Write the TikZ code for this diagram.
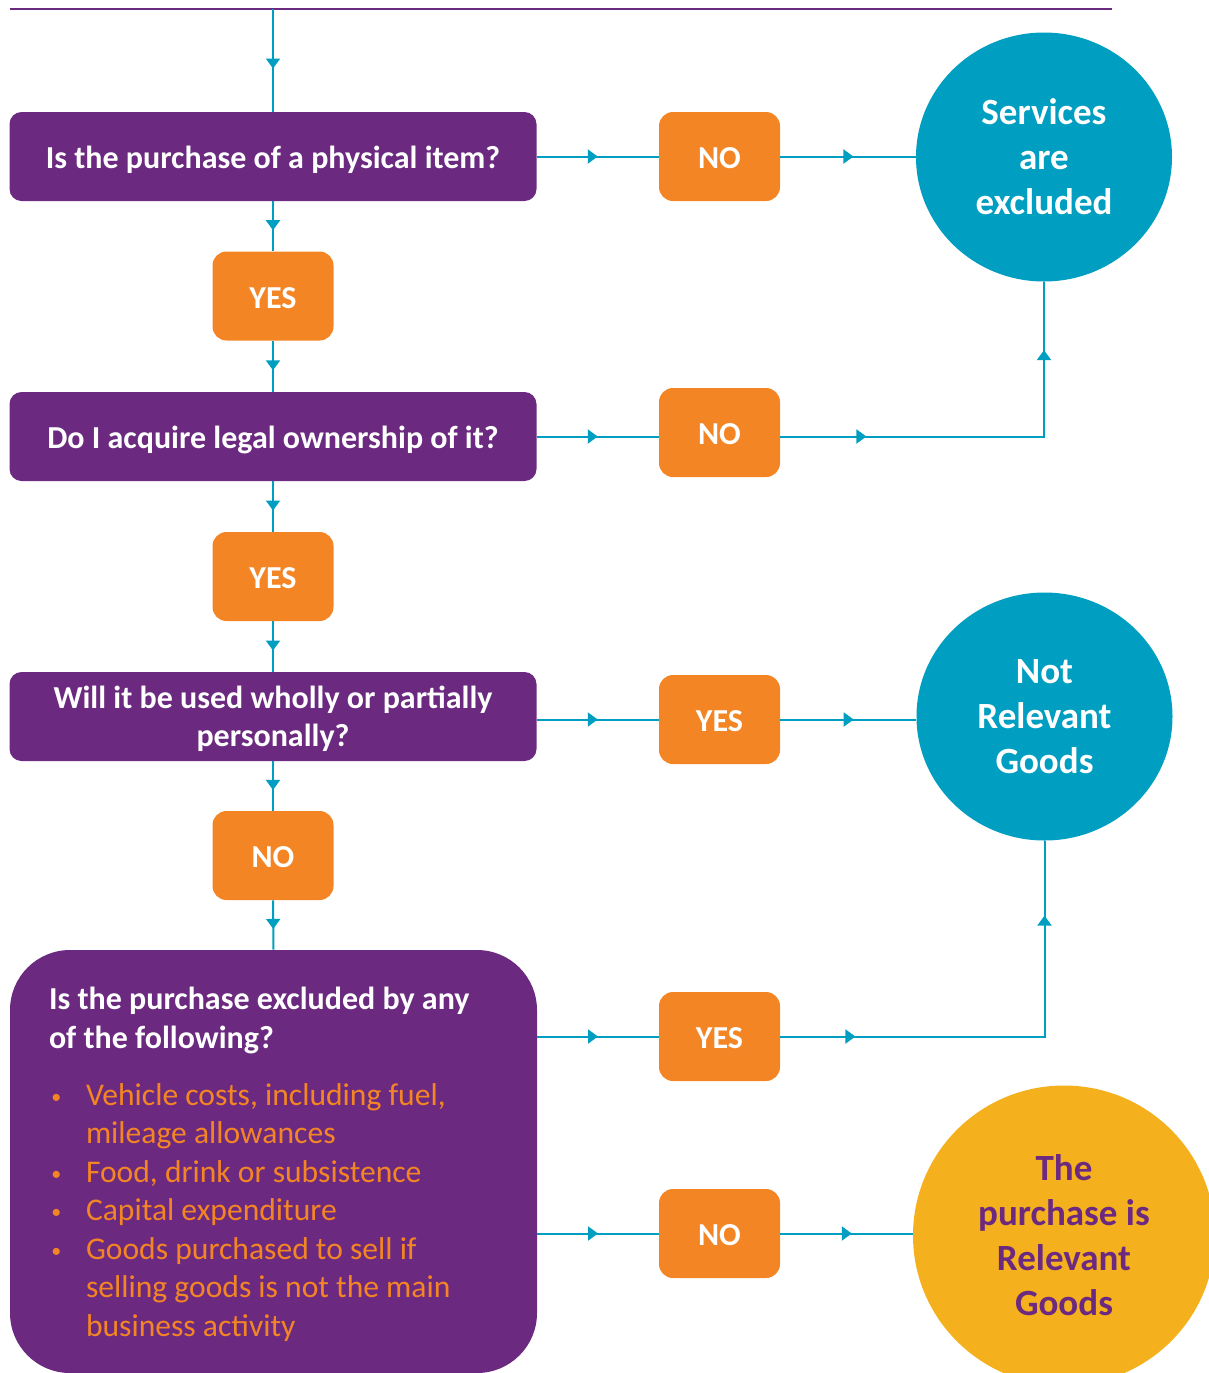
\documentclass[tikz,border=0pt]{standalone}
\usepackage{fontspec}
\setmainfont{Carlito}
\usetikzlibrary{arrows.meta,decorations.markings,shapes.geometric}
\definecolor{qpurple}{HTML}{6B2A80}
\definecolor{qorange}{HTML}{F48524}
\definecolor{qcyan}{HTML}{009EC0}
\definecolor{qyellow}{HTML}{F5B01E}
\newcommand\qbul{\makebox[18.5pt][l]{\hspace*{1.2pt}\raisebox{0.9pt}{\fontsize{10}{10}\selectfont•}}}
\newcommand\qind{\hspace*{18.5pt}}
\begin{document}
\begin{tikzpicture}[x=0.5pt,y=-0.5pt,
 qbox/.style={fill=qpurple, text=white, rounded corners=6pt, minimum width=263.5pt, minimum height=44.5pt, inner sep=0pt, align=center, font=\fontsize{16}{19}\selectfont\bfseries},
 ansbox/.style={fill=qorange, text=white, rounded corners=7pt, minimum width=60.5pt, minimum height=44.5pt, inner sep=0pt, text height=12.3pt, text depth=0pt, font=\fontsize{16}{19}\selectfont\bfseries},
 endc/.style={ellipse, fill=qcyan, text=white, inner sep=0pt, align=center, font=\fontsize{18.5}{22.5}\selectfont\bfseries},
 qtri/.tip={Triangle[length=5pt,width=7pt]},
 flowline/.style={draw=qcyan, line width=1pt, postaction={decorate}, decoration={markings, mark=at position #1 with {\arrow{qtri}}}},
 flowline/.default=0.55,
 flowtwo/.style 2 args={draw=qcyan, line width=1pt, postaction={decorate}, decoration={markings, mark=at position #1 with {\arrow{qtri}}, mark=at position #2 with {\arrow{qtri}}}}]
\useasboundingbox (0,0) rectangle (1209,1373);
\clip (0,0) rectangle (1209,1373);

\draw[qpurple, line width=0.75pt] (10,9) -- (1112,9);
\coordinate (top) at (273,9);

% left column
\node[qbox, text height=15.5pt, text depth=4pt] (q1) at (273,156.5) {Is the purchase of a physical item?};
\node[ansbox] (y1) at (273,296) {YES};
\node[qbox, text height=15.5pt, text depth=4pt] (q2) at (273,436.5) {Do I acquire legal ownership of it?};
\node[ansbox] (y2) at (273,576.5) {YES};
\node[qbox] (q3) at (273,716.5) {\rule{0pt}{14pt}Will it be used wholly or partially\\personally?};
\node[ansbox] (n3) at (273,855.5) {NO};
\node[fill=qpurple, rounded corners=30pt, minimum width=263.5pt, minimum height=211.5pt, inner sep=0pt, text width=224.5pt, align=flush left, font=\fontsize{16}{19.5}\selectfont] (q4) at (273.5,1161.5) {%
{\bfseries\color{white}\rule{0pt}{14.2pt}Is the purchase excluded by any\\of the following?}\\[9pt]
{\color{qorange}\fontsize{15.8}{19.25}\selectfont\qbul Vehicle costs, including fuel,\\
\qind mileage allowances\\
\qbul Food, drink or subsistence\\
\qbul Capital expenditure\\
\qbul Goods purchased to sell if\\
\qind selling goods is not the main\\
\qind business activity}};

% middle column
\node[ansbox] (n1) at (719.5,156.5) {NO};
\node[ansbox] (n2) at (719.5,432.5) {NO};
\node[ansbox] (y3) at (719.5,719.5) {YES};
\node[ansbox] (y4) at (719.5,1036.5) {YES};
\node[ansbox] (n4) at (719.5,1233.5) {NO};

% outcomes
\node[endc, minimum width=128pt, minimum height=124.5pt] (c1) at (1044,157) {Services\\are\\excluded};
\node[endc, minimum width=128pt, minimum height=124pt] (c2) at (1044.5,716.5) {Not\\Relevant\\Goods};
\node[endc, fill=qyellow, text=qpurple, minimum width=151pt, minimum height=150pt] (c3) at (1064,1235.5) {The\\purchase is\\Relevant\\Goods};

% vertical flow
\draw[flowline=0.58] (top) -- (q1.north);
\draw[flowline=0.58] (q1.south) -- (y1.north);
\draw[flowline=0.58] (y1.south) -- (q2.north);
\draw[flowline=0.58] (q2.south) -- (y2.north);
\draw[flowline=0.58] (y2.south) -- (q3.north);
\draw[flowline=0.58] (q3.south) -- (n3.north);
\draw[flowline=0.58] (n3.south) -- (q4.north);

% horizontal flow
\draw[flowline=0.5] (q1.east) -- (n1.west);
\draw[flowline=0.54] (n1.east) -- (n1.east -| c1.west);
\draw[flowline=0.5] (q2.east) -- (q2.east -| n2.west);
\draw[flowtwo={43pt}{175pt}] (n2.east |- q2.east) -- (c1.south |- q2.east) -- (c1.south);
\draw[flowline=0.5] (q3.east |- y3.west) -- (y3.west);
\draw[flowline=0.54] (y3.east) -- (y3.east -| c2.west);
\draw[flowline=0.5] (q4.east |- y4.west) -- (y4.west);
\draw[flowtwo={37.5pt}{192.5pt}] (y4.east) -- (y4.east -| c2.south) -- (c2.south);
\draw[flowline=0.5] (q4.east |- n4.west) -- (n4.west);
\draw[flowline=0.54] (n4.east) -- (n4.east -| c3.west);
\end{tikzpicture}
\end{document}
